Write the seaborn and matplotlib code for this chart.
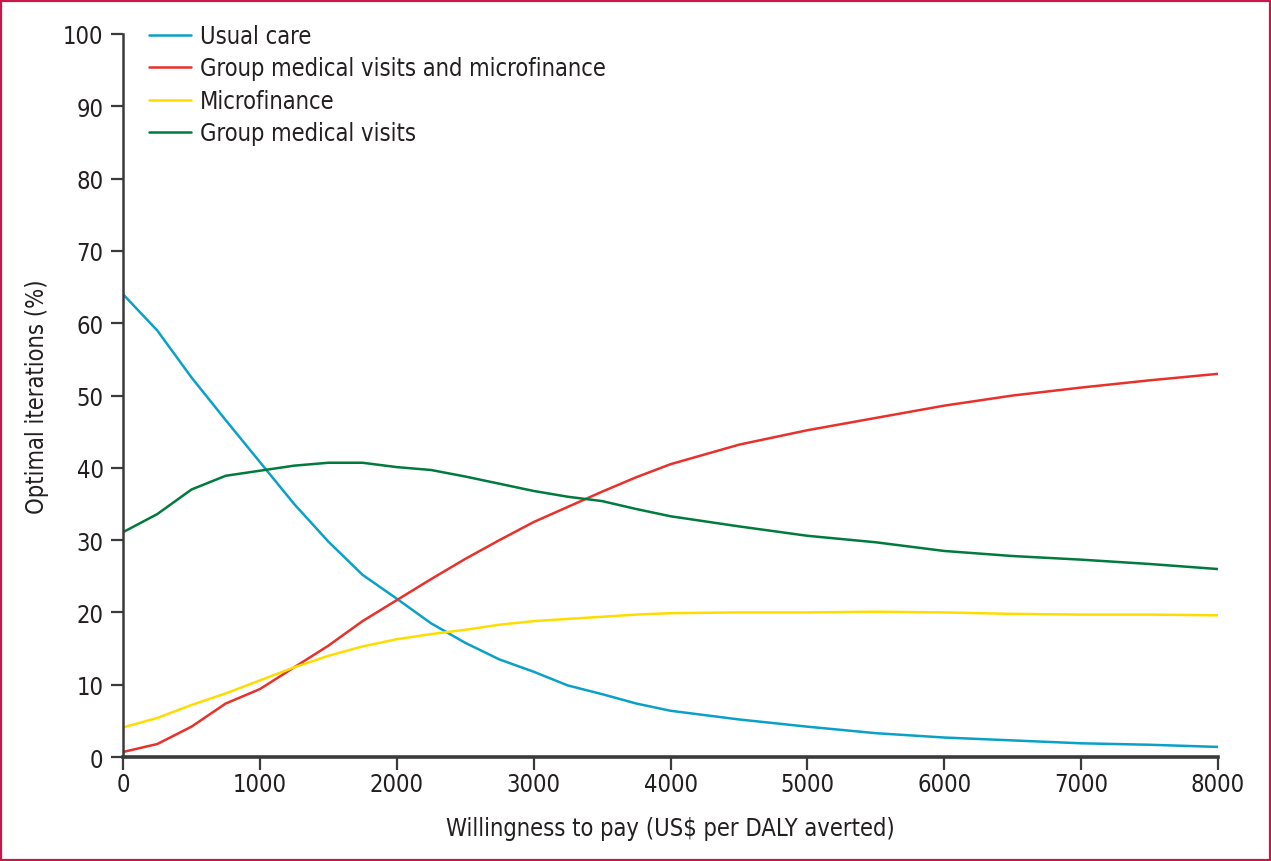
import numpy as np
import pandas as pd
import matplotlib.pyplot as plt
import seaborn as sns
from matplotlib.patches import Rectangle

# Willingness to pay (US$ per DALY averted)
wtp = [0, 250, 500, 750, 1000, 1250, 1500, 1750, 2000, 2250, 2500, 2750, 3000,
       3250, 3500, 3750, 4000, 4500, 5000, 5500, 6000, 6500, 7000, 7500, 8000]

# Optimal iterations (%)
usual_care = [64.0, 59.0, 52.5, 46.6, 40.8, 35.0, 29.8, 25.2, 21.9, 18.5, 15.8, 13.5, 11.8,
              9.9, 8.7, 7.4, 6.4, 5.2, 4.2, 3.3, 2.7, 2.3, 1.9, 1.7, 1.4]
gmv_micro = [0.7, 1.8, 4.2, 7.4, 9.4, 12.4, 15.4, 18.8, 21.7, 24.6, 27.4, 30.0, 32.5,
             34.6, 36.7, 38.7, 40.5, 43.2, 45.2, 46.9, 48.6, 50.0, 51.1, 52.1, 53.0]
microfinance = [4.1, 5.4, 7.2, 8.8, 10.6, 12.4, 14.0, 15.3, 16.3, 17.0, 17.6, 18.3, 18.8,
                19.1, 19.4, 19.7, 19.9, 20.0, 20.0, 20.1, 20.0, 19.8, 19.7, 19.7, 19.6]
gmv = [31.1, 33.6, 37.0, 38.9, 39.6, 40.3, 40.7, 40.7, 40.1, 39.7, 38.8, 37.8, 36.8,
       36.0, 35.4, 34.3, 33.3, 31.9, 30.6, 29.7, 28.5, 27.8, 27.3, 26.7, 26.0]

labels = ['Usual care', 'Group medical visits and microfinance', 'Microfinance', 'Group medical visits']
colors = ['#0aa0c8', '#e8312a', '#ffdc00', '#007a3d']

# long-form table for seaborn
df = pd.concat([
    pd.DataFrame({'wtp': wtp, 'pct': vals, 'strategy': lab})
    for lab, vals in zip(labels, [usual_care, gmv_micro, microfinance, gmv])
])

sns.set_style('white')
plt.rcParams['font.family'] = ['DejaVu Sans']
plt.rcParams['font.stretch'] = 'condensed'
plt.rcParams['text.color'] = '#231f20'
plt.rcParams['axes.labelcolor'] = '#231f20'
plt.rcParams['xtick.color'] = '#3a3a3a'
plt.rcParams['ytick.color'] = '#3a3a3a'

fig = plt.figure(figsize=(12.71, 8.62), dpi=100)
ax = fig.add_axes([0.0968, 0.1206, 0.8615, 0.8388])

sns.lineplot(data=df, x='wtp', y='pct', hue='strategy', hue_order=labels,
             palette=colors, linewidth=1.8, ax=ax)

ax.set_xlim(0, 8000)
ax.set_ylim(0, 100)
ax.set_xticks(np.arange(0, 8001, 1000))
ax.set_yticks(np.arange(0, 101, 10))
ax.tick_params(axis='both', bottom=True, left=True, labelsize=17, length=9, width=1.6,
               direction='out', labelcolor='#231f20')
ax.tick_params(axis='x', pad=2)
ax.tick_params(axis='y', pad=5)
sns.despine(ax=ax)
for s in ['left', 'bottom']:
    ax.spines[s].set_linewidth(1.8)
    ax.spines[s].set_color('#3a3a3a')
ax.spines['bottom'].set_linewidth(2.6)

ax.set_xlabel('Willingness to pay (US$ per DALY averted)', fontsize=17, labelpad=14)
ax.set_ylabel('Optimal iterations (%)', fontsize=17, labelpad=10)

ax.legend(loc='upper left', bbox_to_anchor=(0.015, 1.027), frameon=False, fontsize=17,
          handlelength=1.8, handletextpad=0.35, labelspacing=0.36, borderaxespad=0)

# crimson frame round the whole figure
fig.patches.append(Rectangle((0.001, 0.001), 0.998, 0.997, transform=fig.transFigure,
                             fill=False, edgecolor='#c8174a', linewidth=1.6))

fig.savefig('out.png', dpi=100)
